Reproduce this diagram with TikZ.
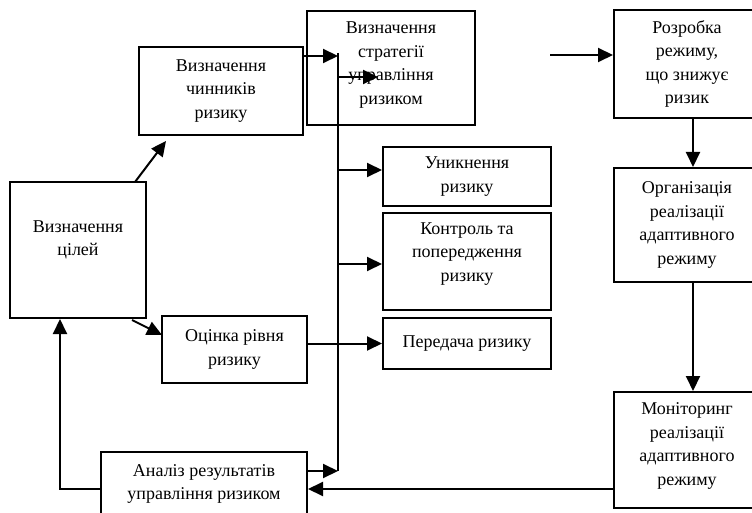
\documentclass[tikz,border=0pt]{standalone}
\usepackage{fontspec}
\setmainfont{Liberation Serif}
\usetikzlibrary{arrows.meta}
\newcommand\fs{\fontsize{18pt}{23.5pt}\selectfont}
\begin{document}
\begin{tikzpicture}[x=1pt,y=-1pt,
  box/.style={draw, line width=2pt, inner sep=0pt, align=center, font=\fs},
  txt/.style={inner sep=0pt, align=center, font=\fs},
  arr/.style={line width=2pt, -{Triangle[length=15pt,width=14pt]}},
  ln/.style={line width=2pt}]
\useasboundingbox (0,0) rectangle (752,513);
\clip (0,0) rectangle (752,513);

\node[box, minimum width=136pt, minimum height=136pt] (goal) at (78,250) {};
\node[txt] (goalt) at (78,240) {Визначення\\цілей};
\node[box, minimum width=164pt, minimum height=88pt] (chin) at (221,91) {Визначення\\чинників\\ризику};
\node[box, minimum width=168pt, minimum height=114pt] (strat) at (391,68) {};
\node[txt] (stratt) at (391,65) {Визначення\\стратегії\\управління\\ризиком};
\node[box, minimum width=168pt, minimum height=59pt] (avoid) at (467,176.5) {Уникнення\\ризику};
\node[box, minimum width=168pt, minimum height=97pt] (ctrl) at (467,261.5) {};
\node[txt] (ctrlt) at (467,254) {Контроль та\\попередження\\ризику};
\node[box, minimum width=168pt, minimum height=51pt] (trans) at (467,343.5) {Передача ризику};
\node[box, minimum width=145pt, minimum height=67pt] (est) at (234.5,349.5) {Оцінка рівня\\ризику};
\node[box, minimum width=206pt, minimum height=68pt] (anal) at (204,486) {};
\node[txt] (analt) at (204,484) {Аналіз результатів\\управління ризиком};
\node[box, minimum width=146pt, minimum height=108pt] (dev) at (687,64) {Розробка\\режиму,\\що знижує\\ризик};
\node[box, minimum width=146pt, minimum height=114pt] (org) at (687,225) {Організація\\реалізації\\адаптивного\\режиму};
\node[box, minimum width=146pt, minimum height=116pt] (mon) at (687,450) {};
\node[txt] (mont) at (687,446) {Моніторинг\\реалізації\\адаптивного\\режиму};

\coordinate (bustop) at (338,53);
\coordinate (busbot) at (338,471);
\coordinate (b1) at (338,56);
\coordinate (b2) at (338,77);
\coordinate (s2) at (378,77);
\coordinate (b3) at (338,170);
\coordinate (b4) at (338,264);
\coordinate (m1) at (614,489);
\coordinate (g1) at (60,489);
\coordinate (d1s) at (135,182);
\coordinate (d1e) at (166,141);
\coordinate (d2s) at (132,320);
\coordinate (d2e) at (162,335);
\coordinate (r0) at (550,55);
\coordinate (vx) at (693,0);

\draw[ln] (bustop) -- (busbot);
\draw[arr] (chin.east |- b1) -- (b1);
\draw[arr] (b2) -- (s2);
\draw[arr] (b3) -- (avoid.west |- b3);
\draw[arr] (b4) -- (ctrl.west |- b4);
\draw[arr] (est.east |- trans.west) -- (trans.west);
\draw[arr] (anal.east |- busbot) -- (busbot);
\draw[arr] (mon.west |- m1) -- (anal.east |- m1);
\draw[arr] (anal.west |- g1) -- (g1) -- (goal.south -| g1);
\draw[arr] (d1s) -- (d1e);
\draw[arr] (d2s) -- (d2e);
\draw[arr] (r0) -- (dev.west |- r0);
\draw[arr] (dev.south -| vx) -- (org.north -| vx);
\draw[arr] (org.south -| vx) -- (mon.north -| vx);
\end{tikzpicture}
\end{document}
